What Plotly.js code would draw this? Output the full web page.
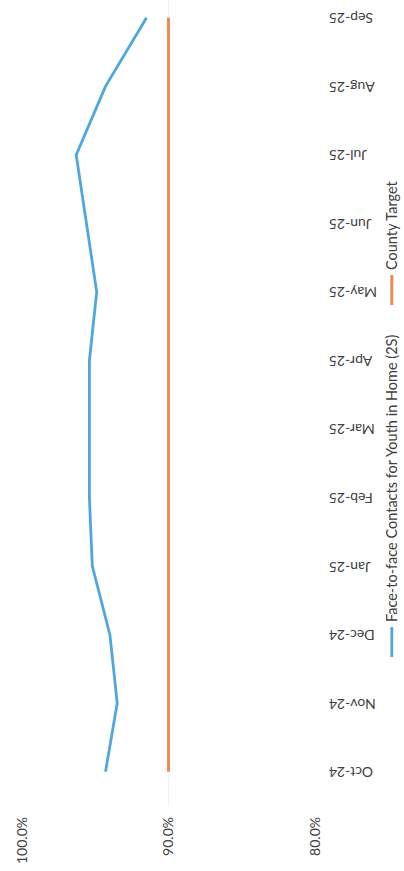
<!DOCTYPE html>
<html>
<head>
<meta charset="utf-8">
<script src="https://cdn.plot.ly/plotly-3.0.1.min.js"></script>
<style>
  html, body { margin:0; padding:0; width:404px; height:871px; overflow:hidden; background:#fff; }
  #wrap { position:absolute; left:0; top:0; width:871px; height:404px;
          transform-origin:0 0; transform: translate(0px, 871px) rotate(-90deg); }
  #chart { width:871px; height:404px; }
</style>
</head>
<body>
<div id="wrap"><div id="chart"></div></div>
<script>
// Data read from the (rotated) reference chart
const months = ["Oct-24","Nov-24","Dec-24","Jan-25","Feb-25","Mar-25","Apr-25","May-25","Jun-25","Jul-25","Aug-25","Sep-25"];
const faceToFace = [0.943, 0.935, 0.940, 0.952, 0.954, 0.954, 0.954, 0.949, 0.956, 0.963, 0.943, 0.915];
const countyTarget = [0.90, 0.90, 0.90, 0.90, 0.90, 0.90, 0.90, 0.90, 0.90, 0.90, 0.90, 0.90];
const seriesNames = ["Face-to-face Contacts for Youth in Home (2S)", "County Target"];
const yTicks = [0.8, 0.9, 1.0];

const font = {family: "Lato, 'Open Sans', sans-serif", size: 14, color: "#404040"};
const legendFont = {family: "Lato, 'Open Sans', sans-serif", size: 14.5, color: "#404040"};

const traces = [
  {x: months, y: faceToFace, type: "scatter", mode: "lines", name: seriesNames[0],
   line: {color: "#4ea7df", width: 2.8}, legend: "legend"},
  {x: months, y: countyTarget, type: "scatter", mode: "lines", name: seriesNames[1],
   line: {color: "#f08a50", width: 3}, legend: "legend2"}
];

const layout = {
  width: 871, height: 404,
  margin: {l: 65, r: 0, t: 22, b: 89.4, pad: 0},
  paper_bgcolor: "#ffffff", plot_bgcolor: "#ffffff",
  font: font,
  showlegend: true,
  xaxis: {type: "category", range: [-0.5, 11.26], tickangle: -90, showgrid: false,
          zeroline: false, showline: false, ticks: "", ticklabelstandoff: 10,
          tickfont: font, fixedrange: true, automargin: false},
  yaxis: {range: [0.8, 1.0], tickvals: yTicks, tickformat: ".1%", showgrid: true,
          gridcolor: "#f1f1f1", gridwidth: 1, zeroline: false, showline: false, ticks: "",
          ticklabelstandoff: 10, tickfont: font, fixedrange: true, automargin: false},
  legend: {orientation: "h", xref: "container", yref: "container", x: 0.240, xanchor: "left",
           y: 0.03, yanchor: "middle", bgcolor: "rgba(0,0,0,0)", font: legendFont, borderwidth: 0},
  legend2: {orientation: "h", xref: "container", yref: "container", x: 0.644, xanchor: "left",
            y: 0.03, yanchor: "middle", bgcolor: "rgba(0,0,0,0)", font: legendFont, borderwidth: 0}
};

Plotly.newPlot("chart", traces, layout, {staticPlot: true, displayModeBar: false});
</script>
</body>
</html>
